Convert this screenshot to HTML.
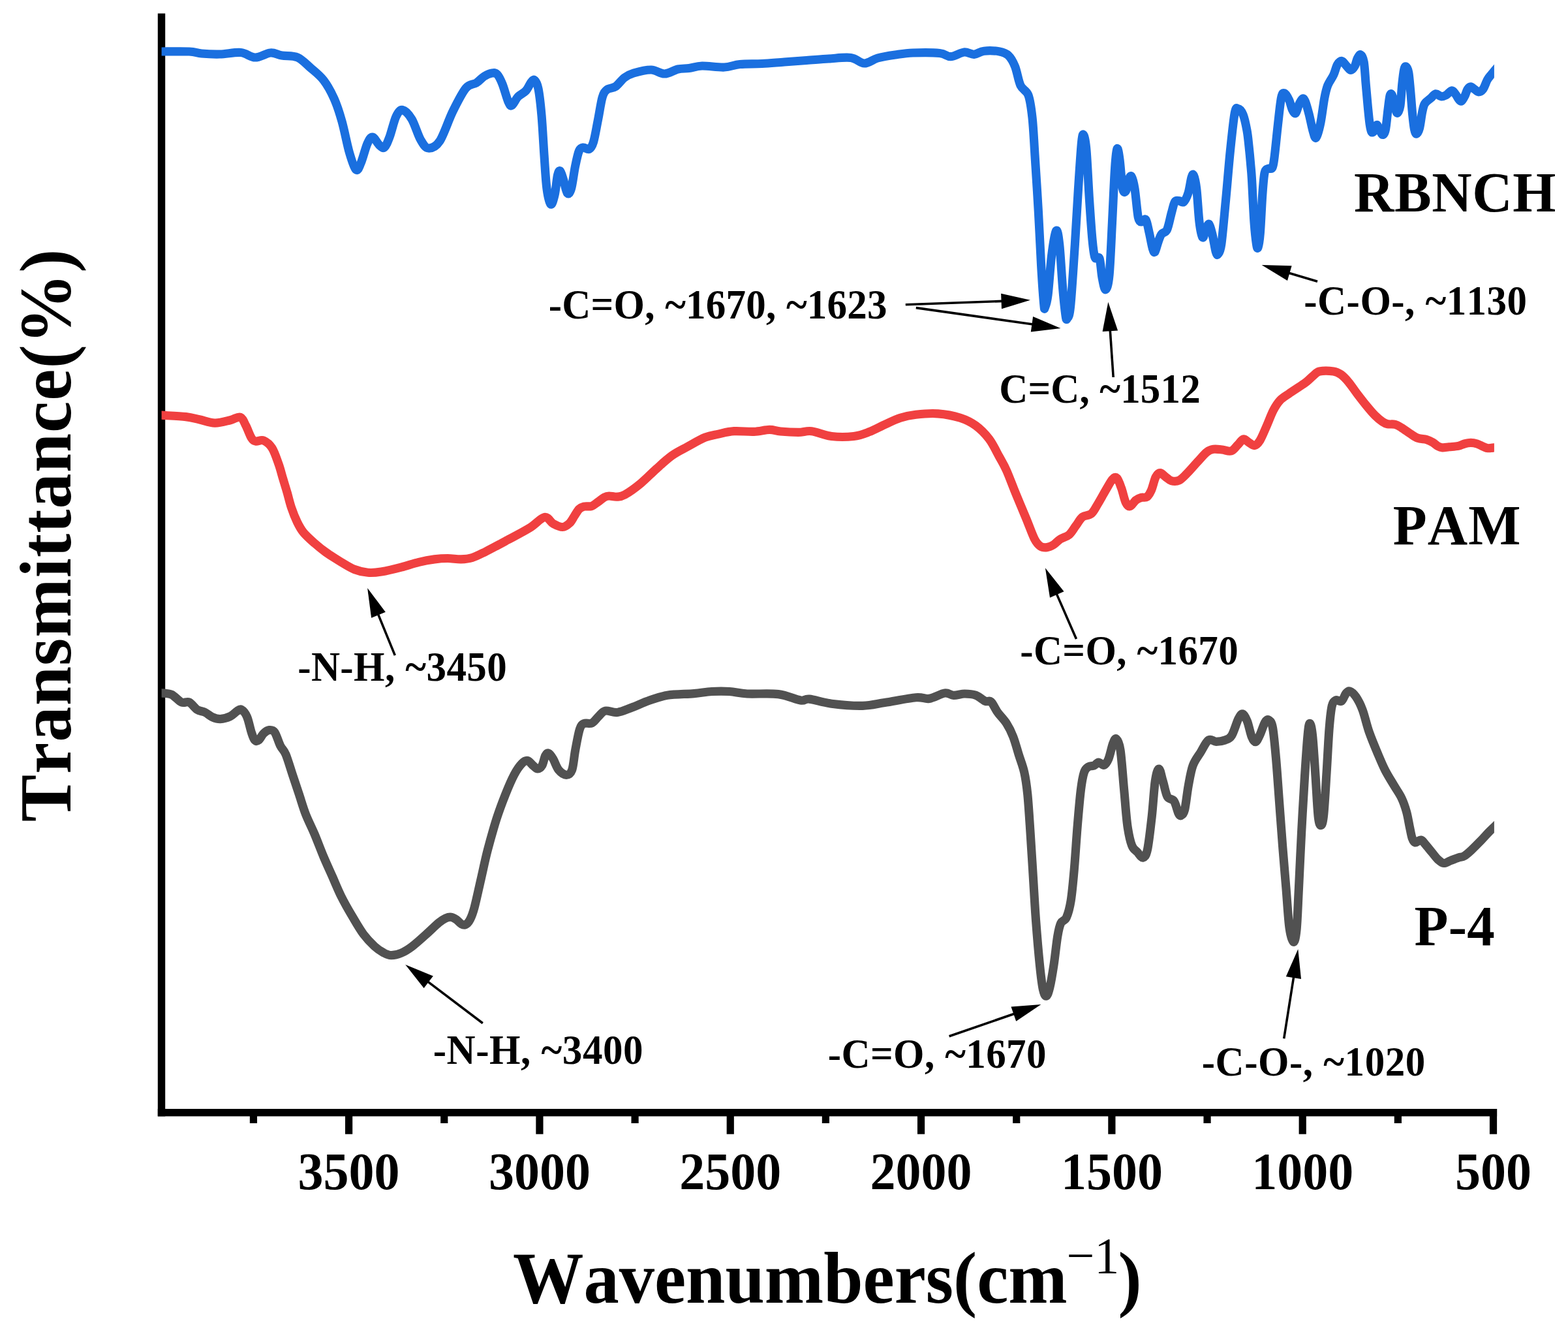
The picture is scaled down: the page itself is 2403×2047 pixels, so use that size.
<!DOCTYPE html>
<html lang="en"><head><meta charset="utf-8"><title>FTIR spectra</title>
<style>
html,body{margin:0;padding:0;background:#fff;}
body{width:2403px;height:2047px;overflow:hidden;}
svg{display:block;}
text{font-kerning:none;font-family:"Liberation Serif","DejaVu Serif",serif;font-weight:bold;fill:#000;}
.ann{font-size:61px;}
.lab{font-size:85px;}
.tick{font-size:78px;text-anchor:middle;}
.title{font-size:108.5px;}
.sup{font-size:76px;font-weight:normal;}
.curve{fill:none;stroke-width:13.2;stroke-linejoin:round;stroke-linecap:butt;}
</style></head><body>
<svg width="2403" height="2047" viewBox="0 0 2403 2047">
<rect x="0" y="0" width="2403" height="2047" fill="#fff"/>
<rect x="241.80" y="20.6" width="11.4" height="1689.80" fill="#000"/>
<rect x="241.80" y="1699.00" width="2052.30" height="11.4" fill="#000"/>
<rect x="529.00" y="1699.00" width="11.2" height="38.70" fill="#000"/>
<text class="tick" transform="translate(534.6,1822) scale(1,1.028)">3500</text>
<rect x="382.84" y="1699.00" width="11.2" height="22.00" fill="#000"/>
<rect x="821.32" y="1699.00" width="11.2" height="38.70" fill="#000"/>
<text class="tick" transform="translate(826.9,1822) scale(1,1.028)">3000</text>
<rect x="675.16" y="1699.00" width="11.2" height="22.00" fill="#000"/>
<rect x="1113.64" y="1699.00" width="11.2" height="38.70" fill="#000"/>
<text class="tick" transform="translate(1119.2,1822) scale(1,1.028)">2500</text>
<rect x="967.48" y="1699.00" width="11.2" height="22.00" fill="#000"/>
<rect x="1405.96" y="1699.00" width="11.2" height="38.70" fill="#000"/>
<text class="tick" transform="translate(1411.6,1822) scale(1,1.028)">2000</text>
<rect x="1259.80" y="1699.00" width="11.2" height="22.00" fill="#000"/>
<rect x="1698.28" y="1699.00" width="11.2" height="38.70" fill="#000"/>
<text class="tick" transform="translate(1703.9,1822) scale(1,1.028)">1500</text>
<rect x="1552.12" y="1699.00" width="11.2" height="22.00" fill="#000"/>
<rect x="1990.60" y="1699.00" width="11.2" height="38.70" fill="#000"/>
<text class="tick" transform="translate(1996.2,1822) scale(1,1.028)">1000</text>
<rect x="1844.44" y="1699.00" width="11.2" height="22.00" fill="#000"/>
<rect x="2282.92" y="1699.00" width="11.2" height="38.70" fill="#000"/>
<text class="tick" transform="translate(2288.5,1822) scale(1,1.028)">500</text>
<rect x="2136.76" y="1699.00" width="11.2" height="22.00" fill="#000"/>
<defs><clipPath id="plotclip"><rect x="247.6" y="0" width="2042.3" height="1700"/></clipPath></defs>
<g clip-path="url(#plotclip)">
<path class="curve" stroke="#515151" d="M240.0,1061.0C241.2,1061.1 243.7,1061.3 247.5,1061.8C251.3,1062.3 257.9,1061.8 263.0,1064.2C268.1,1066.6 273.7,1074.0 278.2,1076.0C282.7,1078.0 286.0,1074.1 290.0,1076.0C294.0,1077.9 298.0,1084.7 302.0,1087.3C306.0,1089.9 310.0,1089.5 314.0,1091.4C318.0,1093.3 321.9,1097.2 325.8,1098.9C329.8,1100.6 333.2,1101.8 337.7,1101.6C342.2,1101.4 348.8,1099.5 353.0,1097.5C357.2,1095.5 360.4,1091.4 363.2,1089.7C366.0,1088.0 367.4,1085.9 370.0,1087.3C372.6,1088.7 375.9,1092.4 378.5,1098.2C381.1,1104.0 383.3,1116.0 385.3,1122.0C387.3,1128.0 388.5,1132.0 390.4,1134.0C392.3,1136.0 394.2,1135.7 396.5,1134.0C398.8,1132.3 401.3,1126.3 404.0,1123.7C406.7,1121.1 409.7,1118.9 412.5,1118.6C415.3,1118.3 418.2,1118.0 421.0,1122.0C423.8,1126.0 426.7,1136.7 429.5,1142.4C432.3,1148.1 434.9,1148.6 438.0,1156.0C441.1,1163.4 444.8,1176.4 448.2,1186.6C451.6,1196.8 455.0,1207.0 458.4,1217.2C461.8,1227.4 464.6,1237.6 468.6,1247.8C472.6,1258.0 477.7,1267.6 482.2,1278.4C486.7,1289.2 491.3,1301.6 495.8,1312.4C500.3,1323.2 504.9,1332.8 509.4,1343.0C513.9,1353.2 517.9,1363.4 523.0,1373.6C528.1,1383.8 534.3,1394.6 540.0,1404.2C545.7,1413.8 551.3,1423.8 557.0,1431.4C562.7,1439.0 568.9,1445.3 574.0,1450.0C579.1,1454.7 583.4,1457.3 587.6,1459.6C591.9,1461.9 595.0,1463.6 599.5,1463.7C604.0,1463.8 609.4,1462.6 614.8,1460.3C620.2,1458.0 625.6,1454.7 631.8,1450.0C638.0,1445.3 645.4,1438.5 652.2,1432.4C659.0,1426.4 667.5,1417.9 672.6,1413.7C677.7,1409.5 679.7,1408.4 682.8,1407.0C685.9,1405.6 688.5,1404.8 691.3,1405.2C694.1,1405.6 697.2,1407.6 699.8,1409.3C702.3,1411.0 704.3,1414.2 706.6,1415.4C708.9,1416.7 711.1,1417.8 713.4,1416.8C715.7,1415.8 717.9,1413.7 720.2,1409.3C722.5,1404.9 724.2,1401.1 727.0,1390.6C729.8,1380.1 733.8,1361.1 737.2,1346.4C740.6,1331.7 743.4,1317.5 747.4,1302.2C751.4,1286.9 756.5,1268.8 761.0,1254.6C765.5,1240.4 770.1,1228.5 774.6,1217.2C779.1,1205.9 784.0,1194.5 788.2,1186.6C792.4,1178.7 796.6,1173.1 800.0,1169.6C803.4,1166.1 805.8,1164.9 808.6,1165.5C811.4,1166.1 814.4,1170.9 817.0,1173.0C819.6,1175.1 821.7,1178.0 824.0,1178.0C826.3,1178.0 828.7,1176.4 830.7,1173.0C832.7,1169.6 834.1,1160.8 835.8,1157.7C837.5,1154.6 839.0,1153.5 841.0,1154.3C843.0,1155.1 845.2,1158.5 847.7,1162.8C850.2,1167.0 852.8,1175.7 856.2,1179.8C859.6,1183.9 864.6,1187.3 868.0,1187.3C871.4,1187.3 874.3,1186.1 876.6,1179.8C878.9,1173.5 879.7,1159.7 881.7,1149.2C883.7,1138.7 886.2,1123.8 888.5,1117.0C890.8,1110.2 892.2,1110.0 895.3,1108.5C898.4,1107.0 903.5,1109.6 907.2,1107.8C910.9,1106.0 914.0,1100.7 917.4,1097.6C920.8,1094.5 922.8,1090.1 927.6,1089.1C932.4,1088.1 939.5,1092.3 946.3,1091.5C953.1,1090.7 960.2,1087.1 968.4,1084.0C976.6,1080.9 986.5,1076.2 995.6,1073.1C1004.7,1070.0 1011.5,1067.0 1022.8,1065.3C1034.1,1063.5 1052.3,1063.6 1063.6,1062.6C1074.9,1061.6 1081.7,1060.0 1090.8,1059.5C1099.9,1059.0 1108.9,1058.9 1118.0,1059.5C1127.1,1060.1 1132.7,1062.3 1145.2,1063.0C1157.7,1063.7 1179.2,1061.9 1192.8,1063.6C1206.4,1065.3 1218.9,1071.8 1226.8,1073.1C1234.7,1074.3 1232.5,1070.2 1240.4,1071.1C1248.3,1071.9 1260.8,1076.5 1274.4,1078.2C1288.0,1079.9 1308.4,1081.6 1322.0,1081.3C1335.6,1081.0 1342.4,1078.6 1356.0,1076.5C1369.6,1074.4 1392.3,1069.7 1403.6,1068.7C1414.9,1067.7 1416.6,1071.5 1424.0,1070.4C1431.4,1069.3 1441.6,1062.8 1447.8,1062.0C1454.0,1061.2 1456.3,1065.1 1461.4,1065.3C1466.5,1065.5 1472.7,1063.0 1478.4,1063.0C1484.1,1063.0 1490.1,1063.4 1495.4,1065.3C1500.7,1067.2 1506.3,1072.8 1510.2,1074.4C1514.1,1076.0 1515.6,1072.3 1518.7,1075.1C1521.8,1077.9 1524.9,1085.9 1528.9,1091.4C1532.9,1097.0 1538.5,1102.2 1542.5,1108.4C1546.5,1114.6 1549.6,1120.9 1552.7,1128.8C1555.8,1136.7 1558.4,1146.9 1561.2,1156.0C1564.0,1165.1 1567.4,1173.0 1569.7,1183.2C1572.0,1193.4 1573.2,1201.9 1574.8,1217.2C1576.3,1232.5 1577.6,1254.0 1579.0,1275.0C1580.4,1296.0 1581.9,1320.3 1583.3,1343.0C1584.7,1365.7 1585.9,1388.3 1587.6,1411.0C1589.3,1433.7 1591.7,1461.4 1593.5,1479.0C1595.3,1496.6 1596.8,1508.6 1598.5,1516.4C1600.2,1524.2 1602.0,1526.6 1603.7,1526.0C1605.4,1525.4 1606.9,1520.8 1608.8,1513.0C1610.7,1505.2 1612.9,1492.0 1614.9,1479.0C1616.9,1466.0 1618.9,1445.6 1620.7,1434.8C1622.5,1424.0 1623.5,1419.2 1625.8,1414.4C1628.1,1409.6 1631.8,1411.6 1634.3,1405.9C1636.8,1400.2 1639.1,1392.6 1641.1,1380.4C1643.1,1368.2 1644.5,1352.1 1646.2,1332.8C1647.9,1313.5 1649.6,1285.2 1651.3,1264.8C1653.0,1244.4 1654.7,1224.0 1656.4,1210.4C1658.1,1196.8 1659.5,1189.2 1661.5,1183.2C1663.5,1177.2 1665.8,1176.4 1668.3,1174.7C1670.8,1173.0 1674.2,1174.1 1676.8,1173.0C1679.3,1171.9 1681.0,1168.1 1683.6,1168.0C1686.1,1167.9 1689.5,1173.2 1692.1,1172.3C1694.6,1171.4 1696.6,1168.3 1698.9,1162.8C1701.2,1157.2 1703.7,1144.1 1705.7,1139.0C1707.7,1133.9 1708.9,1130.5 1710.8,1132.2C1712.7,1133.9 1715.0,1136.2 1717.0,1149.2C1719.0,1162.2 1720.9,1191.1 1722.7,1210.4C1724.5,1229.7 1725.8,1250.6 1727.8,1264.8C1729.8,1279.0 1732.0,1288.6 1734.6,1295.4C1737.1,1302.2 1740.3,1302.5 1743.1,1305.6C1745.9,1308.7 1749.0,1314.6 1751.6,1314.0C1754.1,1313.4 1756.1,1312.7 1758.4,1302.2C1760.7,1291.7 1763.2,1268.8 1765.2,1251.2C1767.2,1233.6 1768.5,1209.0 1770.3,1196.8C1772.1,1184.6 1774.1,1178.0 1776.1,1178.0C1778.1,1178.0 1780.0,1189.7 1782.2,1196.8C1784.4,1203.9 1786.2,1215.5 1789.0,1220.6C1791.8,1225.7 1796.4,1223.2 1799.2,1227.4C1802.0,1231.6 1804.2,1242.3 1806.0,1246.0C1807.8,1249.7 1808.4,1250.3 1810.0,1249.5C1811.6,1248.7 1813.6,1248.7 1815.5,1241.0C1817.4,1233.3 1819.2,1214.9 1821.3,1203.6C1823.4,1192.3 1825.0,1181.5 1828.1,1173.0C1831.2,1164.5 1836.0,1159.1 1840.0,1152.6C1844.0,1146.1 1848.0,1136.7 1852.0,1134.0C1856.0,1131.3 1859.6,1136.3 1863.8,1136.3C1868.0,1136.3 1873.4,1135.5 1877.4,1134.0C1881.4,1132.5 1884.2,1132.4 1887.6,1127.0C1891.0,1121.6 1895.0,1107.1 1897.8,1101.6C1900.6,1096.1 1902.3,1093.4 1904.6,1094.0C1906.9,1094.6 1909.1,1099.2 1911.4,1105.0C1913.7,1110.8 1916.1,1123.5 1918.2,1128.8C1920.3,1134.1 1922.2,1137.2 1924.3,1136.6C1926.4,1136.0 1928.7,1130.4 1931.1,1125.4C1933.5,1120.4 1936.3,1110.4 1938.6,1106.7C1940.9,1103.0 1942.7,1101.9 1944.7,1103.3C1946.7,1104.7 1948.7,1105.3 1950.5,1115.2C1952.3,1125.1 1953.9,1143.5 1955.6,1162.8C1957.3,1182.1 1959.0,1208.1 1960.7,1230.8C1962.4,1253.5 1964.1,1277.3 1965.8,1298.8C1967.5,1320.3 1969.2,1339.6 1970.9,1360.0C1972.6,1380.4 1974.1,1407.3 1976.0,1421.2C1977.9,1435.1 1980.3,1442.7 1982.1,1443.3C1983.9,1443.9 1985.6,1438.5 1987.0,1424.6C1988.4,1410.7 1989.2,1384.9 1990.5,1360.0C1991.8,1335.1 1993.1,1303.3 1994.6,1275.0C1996.1,1246.7 1997.9,1214.9 1999.5,1190.0C2001.1,1165.1 2002.9,1139.0 2004.2,1125.4C2005.5,1111.8 2006.3,1107.8 2007.6,1108.4C2008.8,1109.0 2010.3,1115.2 2011.7,1128.8C2013.1,1142.4 2014.7,1169.6 2016.1,1190.0C2017.5,1210.4 2018.8,1238.8 2020.2,1251.2C2021.6,1263.6 2023.2,1265.1 2024.6,1264.5C2026.0,1263.9 2027.3,1261.3 2028.7,1247.8C2030.1,1234.2 2031.7,1205.3 2033.1,1183.2C2034.5,1161.1 2035.8,1132.2 2037.2,1115.2C2038.6,1098.2 2039.6,1088.3 2041.3,1081.2C2043.0,1074.1 2045.0,1073.8 2047.4,1072.7C2049.8,1071.6 2053.4,1076.1 2055.9,1074.4C2058.4,1072.7 2060.6,1065.1 2062.7,1062.5C2064.8,1059.9 2065.9,1058.2 2068.5,1059.0C2071.1,1059.8 2074.7,1062.8 2078.0,1067.6C2081.3,1072.4 2084.8,1078.9 2088.2,1088.0C2091.6,1097.1 2094.4,1110.7 2098.4,1122.0C2102.4,1133.3 2107.9,1146.3 2112.0,1156.0C2116.1,1165.7 2118.7,1172.1 2122.7,1180.0C2126.7,1187.9 2132.0,1196.1 2136.2,1203.2C2140.4,1210.3 2144.6,1215.8 2147.8,1222.5C2151.0,1229.2 2153.4,1236.3 2155.5,1243.7C2157.6,1251.1 2158.9,1260.2 2160.3,1266.9C2161.8,1273.7 2162.8,1280.2 2164.2,1284.2C2165.6,1288.2 2166.8,1290.5 2169.0,1291.0C2171.2,1291.5 2175.1,1286.6 2177.7,1287.1C2180.3,1287.6 2181.8,1290.8 2184.5,1293.9C2187.2,1297.0 2190.9,1301.7 2194.1,1305.5C2197.3,1309.3 2200.7,1314.2 2203.8,1317.0C2206.9,1319.8 2209.3,1322.2 2212.5,1322.5C2215.7,1322.8 2219.3,1320.0 2223.0,1318.6C2226.7,1317.2 2231.1,1315.4 2234.7,1314.2C2238.2,1313.0 2240.8,1313.4 2244.3,1311.3C2247.8,1309.2 2251.7,1305.5 2255.9,1301.6C2260.1,1297.7 2265.2,1292.4 2269.4,1288.1C2273.6,1283.8 2277.6,1279.1 2281.0,1275.6C2284.4,1272.1 2287.5,1269.3 2290.0,1266.9C2292.5,1264.5 2295.0,1262.0 2296.0,1261.0"/>
<path class="curve" stroke="#f04040" d="M240.0,635.8C241.2,635.9 240.0,635.7 247.5,636.2C255.0,636.7 275.4,637.5 285.0,638.6C294.6,639.7 298.0,641.1 305.4,642.7C312.8,644.3 321.3,647.9 329.2,648.1C337.1,648.3 346.5,645.2 353.0,643.7C359.5,642.2 364.3,637.9 368.3,639.3C372.3,640.7 374.0,646.9 376.8,652.2C379.6,657.5 382.8,667.0 385.3,671.0C387.9,675.0 389.0,675.3 392.1,676.0C395.2,676.7 399.9,673.2 404.0,675.0C408.1,676.8 413.2,680.5 417.0,686.5C420.8,692.5 424.2,703.2 427.0,711.0C429.8,718.8 431.4,725.8 433.6,733.2C435.8,740.6 438.2,748.0 440.3,755.4C442.4,762.8 444.0,770.2 446.5,777.6C449.0,785.0 452.4,793.6 455.5,800.0C458.6,806.4 460.8,810.6 465.2,816.0C469.6,821.4 476.5,827.4 482.2,832.4C487.9,837.4 492.4,841.2 499.2,846.0C506.0,850.8 515.6,856.9 523.0,861.3C530.4,865.7 536.6,869.8 543.4,872.5C550.2,875.2 557.0,876.7 563.8,877.3C570.6,877.9 575.7,877.4 584.2,876.0C592.7,874.6 605.2,871.6 614.8,869.1C624.4,866.6 633.5,863.3 642.0,861.3C650.5,859.3 658.4,857.9 665.8,856.9C673.2,855.9 679.4,855.5 686.2,855.5C693.0,855.5 700.4,857.1 706.6,856.9C712.8,856.7 717.4,856.4 723.6,854.5C729.8,852.6 734.9,849.8 744.0,845.3C753.1,840.8 766.7,833.4 778.0,827.3C789.3,821.2 802.6,814.4 812.0,808.6C821.4,802.8 828.5,793.5 834.5,792.5C840.5,791.5 843.4,800.0 848.0,802.5C852.6,805.0 858.0,807.7 862.2,807.5C866.4,807.3 870.0,804.3 873.0,801.5C876.0,798.7 877.9,794.2 880.3,790.6C882.7,787.0 885.1,782.4 887.5,780.0C889.9,777.6 891.6,777.0 894.8,776.2C898.0,775.4 903.2,776.6 906.8,775.4C910.4,774.2 913.3,771.2 916.5,769.0C919.7,766.8 923.3,763.5 926.1,762.0C928.9,760.5 930.2,760.1 933.4,760.0C936.6,759.9 941.4,761.5 945.4,761.2C949.4,760.9 951.4,761.4 957.5,758.0C963.6,754.6 974.0,747.2 982.0,740.6C990.0,734.0 997.9,725.6 1005.8,718.5C1013.7,711.4 1021.7,703.8 1029.6,698.1C1037.5,692.4 1044.9,689.1 1053.4,684.5C1061.9,679.9 1072.7,673.4 1080.6,670.2C1088.5,667.0 1093.6,666.7 1101.0,665.1C1108.4,663.5 1115.7,661.3 1124.8,660.7C1133.9,660.1 1146.3,661.8 1155.4,661.4C1164.5,661.0 1172.4,658.4 1179.2,658.3C1186.0,658.2 1188.8,660.3 1196.2,661.0C1203.6,661.7 1215.5,662.4 1223.4,662.4C1231.3,662.4 1235.3,659.7 1243.8,660.7C1252.3,661.7 1263.6,667.2 1274.4,668.5C1285.2,669.8 1298.8,669.6 1308.4,668.5C1318.0,667.4 1324.3,664.7 1332.2,661.7C1340.1,658.7 1348.1,654.1 1356.0,650.5C1363.9,646.9 1371.9,642.8 1379.8,640.3C1387.7,637.8 1394.0,636.3 1403.6,635.2C1413.2,634.1 1426.3,632.9 1437.6,633.8C1448.9,634.6 1462.0,637.2 1471.6,640.3C1481.2,643.4 1488.0,646.8 1495.4,652.2C1502.8,657.6 1509.8,664.7 1515.8,672.6C1521.8,680.5 1527.0,691.8 1531.4,699.8C1535.8,707.8 1538.3,711.5 1542.4,720.6C1546.5,729.7 1550.9,742.1 1556.0,754.6C1561.1,767.1 1568.1,783.5 1573.0,795.4C1577.9,807.3 1581.9,819.1 1585.5,826.0C1589.1,832.9 1591.2,834.8 1594.4,836.9C1597.6,839.0 1601.2,839.0 1604.6,838.6C1608.0,838.2 1611.4,836.6 1614.8,834.5C1618.2,832.4 1621.0,828.5 1625.0,826.0C1629.0,823.5 1634.6,822.6 1638.6,819.2C1642.6,815.8 1645.4,810.1 1648.8,805.6C1652.2,801.1 1655.0,795.1 1659.0,792.0C1663.0,788.9 1668.6,790.4 1672.6,787.0C1676.6,783.6 1678.8,778.1 1682.8,771.6C1686.8,765.1 1692.7,754.0 1696.4,747.8C1700.1,741.6 1702.5,736.8 1705.0,734.2C1707.5,731.7 1709.5,730.2 1711.7,732.5C1714.0,734.8 1716.2,741.5 1718.5,747.8C1720.8,754.0 1723.0,765.4 1725.3,770.0C1727.5,774.6 1729.5,776.3 1732.0,775.7C1734.5,775.1 1737.8,768.7 1740.6,766.5C1743.4,764.3 1746.2,763.2 1749.0,762.4C1751.8,761.5 1755.0,763.3 1757.6,761.4C1760.2,759.5 1762.1,756.3 1764.4,751.2C1766.7,746.1 1768.9,735.2 1771.2,730.8C1773.5,726.4 1775.5,724.7 1778.0,724.7C1780.5,724.7 1783.7,728.8 1786.5,730.8C1789.3,732.8 1791.6,735.7 1795.0,736.6C1798.4,737.5 1803.0,737.8 1807.0,736.0C1811.0,734.2 1814.0,730.5 1818.8,725.7C1823.6,720.9 1830.7,712.5 1835.8,707.0C1840.9,701.5 1845.4,695.8 1849.4,692.7C1853.4,689.6 1855.6,688.9 1859.6,688.3C1863.6,687.7 1868.7,688.5 1873.2,689.0C1877.7,689.5 1882.8,692.2 1886.8,691.0C1890.8,689.8 1893.9,684.5 1897.0,681.5C1900.1,678.5 1902.7,673.6 1905.5,673.0C1908.3,672.4 1911.2,676.4 1914.0,678.0C1916.8,679.6 1919.7,683.0 1922.5,682.5C1925.3,682.0 1927.9,679.7 1931.0,674.7C1934.1,669.7 1937.8,660.2 1941.2,652.6C1944.6,645.0 1948.0,635.3 1951.4,628.8C1954.8,622.3 1957.6,617.8 1961.6,613.5C1965.6,609.2 1969.5,607.3 1975.2,603.3C1980.9,599.3 1991.0,592.9 1995.6,589.7C2000.2,586.6 2000.2,586.7 2003.0,584.4C2005.8,582.1 2009.5,578.3 2012.7,575.7C2015.9,573.1 2017.2,570.1 2022.3,569.0C2027.4,567.9 2038.0,568.2 2043.5,569.0C2048.9,569.8 2051.1,571.1 2055.0,573.8C2058.9,576.5 2062.5,580.4 2066.7,585.4C2070.9,590.4 2075.7,597.8 2080.2,603.7C2084.7,609.6 2089.2,615.5 2093.7,621.0C2098.2,626.5 2103.0,632.3 2107.2,636.5C2111.4,640.7 2115.6,644.0 2118.8,646.2C2122.0,648.4 2123.3,649.0 2126.5,649.7C2129.7,650.4 2134.4,649.5 2138.0,650.4C2141.6,651.3 2143.9,652.9 2147.8,655.3C2151.7,657.6 2157.1,661.8 2161.3,664.5C2165.5,667.2 2168.7,669.8 2172.9,671.3C2177.1,672.8 2182.6,672.5 2186.4,673.6C2190.2,674.7 2193.1,676.3 2196.0,678.0C2198.9,679.7 2201.4,682.5 2203.8,683.8C2206.2,685.1 2207.6,685.6 2210.5,685.8C2213.4,686.0 2217.0,685.2 2221.0,684.8C2225.0,684.4 2230.8,684.2 2234.7,683.4C2238.6,682.6 2241.1,680.8 2244.3,680.0C2247.5,679.2 2250.8,678.4 2254.0,678.4C2257.2,678.4 2260.4,679.0 2263.6,680.0C2266.8,681.0 2270.6,683.3 2273.3,684.4C2276.0,685.5 2277.2,686.5 2280.0,686.7C2282.8,686.9 2287.3,686.1 2290.0,685.8C2292.7,685.5 2295.0,685.1 2296.0,685.0"/>
<path class="curve" stroke="#1a6fdf" d="M240.0,79.0C241.2,79.0 239.2,79.0 247.5,79.0C255.8,79.0 279.8,78.5 290.0,79.0C300.2,79.5 301.2,81.3 309.0,82.0C316.8,82.7 327.0,83.2 337.0,83.0C347.0,82.8 360.0,79.7 369.0,80.5C378.0,81.3 383.4,87.9 391.0,88.0C398.6,88.1 407.7,81.5 414.5,81.0C421.3,80.5 425.1,83.8 432.0,85.0C438.9,86.2 448.7,84.8 456.0,88.0C463.3,91.2 469.3,98.2 476.0,104.0C482.7,109.8 490.0,115.2 496.0,123.0C502.0,130.8 507.3,140.5 512.0,151.0C516.7,161.5 520.1,172.2 524.0,186.0C527.9,199.8 531.9,221.7 535.5,234.0C539.1,246.3 542.6,257.3 545.5,260.0C548.4,262.7 550.1,256.7 553.0,250.0C555.9,243.3 560.0,226.7 563.0,220.0C566.0,213.3 568.0,209.7 571.0,210.0C574.0,210.3 578.0,219.3 581.0,222.0C584.0,224.7 586.3,228.0 589.0,226.0C591.7,224.0 594.0,217.9 597.0,210.0C600.0,202.1 603.7,185.4 607.0,178.5C610.3,171.6 613.0,167.8 617.0,168.5C621.0,169.2 626.4,174.9 631.0,182.5C635.6,190.1 640.2,206.6 644.5,214.0C648.8,221.4 651.6,226.7 656.5,227.0C661.4,227.3 667.8,225.4 674.0,216.0C680.2,206.6 687.3,184.0 694.0,170.5C700.7,157.0 708.0,142.2 714.0,135.0C720.0,127.8 725.3,130.0 730.0,127.0C734.7,124.0 738.0,119.5 742.0,117.0C746.0,114.5 750.7,112.5 754.0,112.0C757.3,111.5 759.3,111.2 762.0,114.0C764.7,116.8 767.2,122.0 770.0,129.0C772.8,136.0 776.6,150.6 779.0,156.0C781.4,161.4 782.0,162.8 784.5,161.5C787.0,160.2 790.4,151.8 794.0,148.0C797.6,144.2 802.7,142.7 806.0,139.0C809.3,135.3 811.8,128.7 814.0,126.0C816.2,123.3 817.7,121.3 819.5,123.0C821.3,124.7 823.2,127.0 825.0,136.0C826.8,145.0 828.5,160.0 830.0,177.0C831.5,194.0 832.7,219.3 834.0,238.0C835.3,256.7 836.3,276.5 838.0,289.0C839.7,301.5 842.0,311.3 844.0,313.0C846.0,314.7 848.2,306.4 850.0,299.0C851.8,291.6 853.1,274.7 854.5,268.5C855.9,262.3 857.0,260.8 858.5,262.0C860.0,263.2 861.7,269.8 863.5,275.5C865.3,281.2 867.5,293.8 869.5,296.0C871.5,298.2 873.5,295.8 875.5,289.0C877.5,282.2 879.5,264.7 881.5,255.0C883.5,245.3 885.4,235.8 887.5,231.0C889.6,226.2 891.4,226.4 894.0,226.0C896.6,225.6 900.4,229.9 903.0,228.5C905.6,227.1 907.2,225.0 909.5,217.5C911.8,210.0 914.2,194.8 916.5,183.5C918.8,172.2 920.8,157.2 923.0,149.5C925.2,141.8 926.6,140.3 930.0,137.5C933.4,134.7 939.0,135.6 943.5,132.5C948.0,129.4 952.4,122.4 957.0,119.0C961.6,115.6 964.2,114.0 971.0,112.0C977.8,110.0 990.1,106.8 998.0,107.0C1005.9,107.2 1011.7,113.2 1018.5,113.0C1025.3,112.8 1032.8,107.4 1039.0,106.0C1045.2,104.6 1049.8,105.3 1056.0,104.5C1062.2,103.7 1067.0,101.2 1076.0,101.0C1085.0,100.8 1100.3,103.4 1110.0,103.0C1119.7,102.6 1124.3,99.4 1134.0,98.5C1143.7,97.6 1156.7,98.1 1168.0,97.5C1179.3,96.9 1190.7,95.8 1202.0,95.0C1213.3,94.2 1224.7,93.3 1236.0,92.5C1247.3,91.7 1258.7,90.7 1270.0,90.0C1281.3,89.3 1294.9,87.3 1304.0,88.5C1313.1,89.7 1317.7,96.9 1324.5,97.0C1331.3,97.1 1337.1,91.2 1345.0,89.0C1352.9,86.8 1363.0,85.3 1372.0,84.0C1381.0,82.7 1387.7,81.4 1399.0,81.0C1410.3,80.6 1430.3,80.5 1440.0,81.5C1449.7,82.5 1450.8,87.0 1457.0,86.7C1463.2,86.5 1471.5,80.6 1477.4,80.0C1483.4,79.4 1487.6,83.6 1492.7,83.3C1497.8,83.0 1501.5,78.9 1508.0,78.2C1514.5,77.5 1525.6,77.9 1531.8,79.0C1538.0,80.1 1541.4,81.2 1545.4,85.0C1549.4,88.8 1552.5,94.3 1555.6,102.0C1558.7,109.7 1560.6,123.7 1564.0,131.0C1567.4,138.3 1573.0,137.8 1576.0,146.0C1579.0,154.2 1580.3,164.7 1582.0,180.0C1583.7,195.3 1584.5,214.2 1586.0,238.0C1587.5,261.8 1589.7,294.7 1591.3,323.0C1592.9,351.3 1594.3,384.2 1595.7,408.0C1597.1,431.8 1598.8,455.5 1599.8,466.0C1600.8,476.5 1600.5,473.3 1601.5,471.0C1602.5,468.7 1604.3,465.3 1606.0,452.0C1607.7,438.7 1609.6,407.4 1611.7,391.0C1613.8,374.6 1616.5,356.4 1618.5,353.6C1620.5,350.8 1621.9,359.3 1623.6,374.0C1625.3,388.7 1627.1,423.8 1628.7,442.0C1630.3,460.2 1631.9,475.3 1633.0,483.0C1634.1,490.7 1634.2,490.3 1635.5,488.0C1636.8,485.7 1638.6,488.0 1640.6,469.0C1642.6,450.0 1645.4,404.0 1647.4,374.0C1649.4,344.0 1650.8,315.1 1652.5,289.0C1654.2,262.9 1656.2,231.2 1657.6,217.6C1659.0,204.0 1659.8,205.2 1661.0,207.4C1662.2,209.6 1663.6,214.6 1665.0,231.0C1666.4,247.4 1668.0,283.3 1669.5,306.0C1671.0,328.7 1672.6,352.3 1674.0,367.0C1675.4,381.7 1676.2,389.6 1678.0,394.4C1679.8,399.2 1683.2,390.9 1685.0,396.0C1686.8,401.1 1687.5,417.1 1689.0,425.0C1690.5,432.9 1692.5,444.3 1694.3,443.7C1696.1,443.1 1698.3,438.9 1700.0,421.6C1701.7,404.3 1703.1,367.2 1704.5,340.0C1705.9,312.8 1707.3,277.1 1708.6,258.4C1709.8,239.7 1710.8,230.1 1712.0,227.8C1713.2,225.5 1714.6,234.6 1716.0,244.8C1717.4,255.0 1718.9,281.1 1720.5,289.0C1722.1,296.9 1724.1,294.7 1725.6,292.4C1727.1,290.1 1728.3,279.1 1729.7,275.4C1731.1,271.7 1732.5,268.0 1734.0,270.3C1735.5,272.6 1737.3,278.6 1739.0,289.0C1740.7,299.4 1742.6,324.5 1744.3,333.0C1746.0,341.5 1747.5,339.4 1749.4,340.0C1751.4,340.6 1754.0,333.8 1756.0,336.6C1758.0,339.4 1759.6,349.6 1761.3,357.0C1763.0,364.4 1765.0,376.0 1766.4,380.8C1767.9,385.6 1768.6,387.7 1770.0,386.0C1771.4,384.3 1773.3,375.2 1775.0,370.6C1776.7,366.1 1777.8,361.8 1780.0,358.7C1782.2,355.6 1786.0,357.4 1788.5,352.0C1791.0,346.6 1793.3,333.5 1795.3,326.4C1797.3,319.3 1798.5,312.5 1800.4,309.4C1802.4,306.3 1804.7,307.7 1807.0,307.7C1809.3,307.7 1811.7,311.4 1814.0,309.4C1816.3,307.4 1819.0,302.0 1821.0,295.8C1823.0,289.6 1824.6,276.5 1826.0,272.0C1827.4,267.5 1828.0,265.8 1829.3,268.6C1830.6,271.4 1832.2,277.1 1833.7,289.0C1835.2,300.9 1836.5,327.5 1838.0,340.0C1839.5,352.5 1841.3,361.8 1843.0,363.8C1844.7,365.8 1846.3,355.4 1848.0,352.0C1849.7,348.6 1851.3,342.0 1853.0,343.4C1854.7,344.8 1856.5,353.3 1858.2,360.4C1859.9,367.5 1861.9,381.2 1863.3,386.0C1864.7,390.8 1865.3,391.3 1866.7,389.3C1868.1,387.3 1869.8,387.9 1871.8,374.0C1873.8,360.1 1876.3,329.8 1878.6,306.0C1880.9,282.2 1883.1,253.1 1885.4,231.0C1887.7,208.9 1890.2,184.1 1892.2,173.4C1894.2,162.7 1895.2,166.2 1897.3,166.6C1899.4,166.9 1902.7,169.9 1905.0,175.5C1907.3,181.1 1909.5,191.9 1911.0,200.0C1912.5,208.1 1913.1,215.7 1914.0,224.0C1914.9,232.3 1915.8,241.5 1916.5,250.0C1917.2,258.5 1917.6,260.0 1918.5,275.0C1919.4,290.0 1920.8,323.5 1922.0,340.0C1923.2,356.5 1924.5,367.5 1925.5,374.0C1926.5,380.5 1927.0,381.8 1928.0,379.0C1929.0,376.2 1930.2,370.3 1931.3,357.0C1932.4,343.7 1933.6,314.3 1934.7,299.0C1935.8,283.7 1936.6,271.8 1938.0,265.0C1939.4,258.2 1941.2,259.8 1943.2,258.4C1945.2,257.0 1948.3,260.1 1950.0,256.7C1951.7,253.3 1952.0,249.1 1953.4,238.0C1954.8,226.9 1956.8,205.1 1958.5,190.4C1960.2,175.7 1961.9,157.5 1963.6,149.6C1965.3,141.7 1966.7,142.2 1968.7,142.8C1970.7,143.4 1973.5,148.8 1975.5,153.0C1977.5,157.2 1978.9,164.9 1980.6,168.3C1982.3,171.7 1984.0,174.8 1985.7,173.4C1987.4,172.0 1989.1,163.5 1990.8,159.8C1992.5,156.1 1994.5,152.2 1996.0,151.3C1997.5,150.5 1998.3,150.8 2000.0,154.7C2001.7,158.6 2004.0,166.9 2006.0,174.5C2008.0,182.1 2010.2,194.2 2012.0,200.3C2013.8,206.4 2014.9,213.0 2016.9,211.0C2018.9,209.0 2021.7,198.5 2023.8,188.4C2025.9,178.3 2027.9,160.3 2029.7,150.7C2031.5,141.1 2032.4,136.9 2034.7,131.0C2037.0,125.0 2041.1,120.3 2043.6,115.0C2046.1,109.7 2047.4,102.6 2049.6,99.0C2051.8,95.4 2054.2,93.2 2056.5,93.5C2058.8,93.8 2061.2,98.7 2063.5,101.0C2065.8,103.3 2068.2,107.5 2070.4,107.5C2072.6,107.5 2074.8,104.0 2076.4,101.0C2078.1,98.0 2078.8,92.1 2080.3,89.3C2081.8,86.5 2083.7,83.0 2085.3,84.0C2087.0,85.0 2088.9,87.7 2090.2,95.2C2091.5,102.7 2092.2,117.8 2093.2,129.0C2094.2,140.2 2095.2,152.4 2096.2,162.6C2097.2,172.8 2098.2,183.8 2099.2,190.4C2100.2,197.0 2100.9,200.7 2102.0,202.3C2103.1,204.0 2104.7,202.1 2106.0,200.3C2107.3,198.5 2108.7,191.7 2110.0,191.4C2111.3,191.1 2112.5,195.8 2114.0,198.3C2115.5,200.8 2117.4,206.5 2119.0,206.5C2120.6,206.5 2122.1,204.6 2123.4,198.3C2124.7,192.0 2125.9,177.2 2127.0,168.6C2128.1,160.0 2129.0,150.8 2130.0,146.8C2131.0,142.8 2131.8,143.2 2132.9,144.8C2134.1,146.5 2135.6,152.0 2136.9,156.7C2138.2,161.4 2139.3,172.0 2140.8,173.0C2142.3,174.0 2144.5,169.9 2145.8,162.6C2147.1,155.3 2147.8,138.3 2148.8,129.0C2149.8,119.7 2150.7,111.5 2151.7,107.0C2152.7,102.5 2153.5,101.3 2154.7,102.0C2155.9,102.7 2157.5,104.9 2158.7,111.0C2159.8,117.1 2160.6,128.2 2161.6,138.8C2162.6,149.4 2163.6,164.6 2164.6,174.5C2165.6,184.4 2166.5,193.2 2167.6,198.3C2168.7,203.4 2169.7,205.3 2171.0,205.0C2172.3,204.7 2174.1,201.7 2175.5,196.3C2176.9,190.9 2178.2,178.8 2179.5,172.5C2180.8,166.2 2181.3,162.3 2183.5,158.7C2185.7,155.1 2189.6,153.2 2192.4,150.7C2195.2,148.2 2197.7,144.3 2200.3,143.8C2203.0,143.3 2205.7,147.5 2208.3,147.8C2211.0,148.1 2213.4,147.3 2216.2,145.8C2219.0,144.3 2222.5,139.0 2225.0,138.8C2227.5,138.6 2229.2,142.5 2231.0,144.8C2232.8,147.1 2234.5,151.0 2236.0,152.7C2237.5,154.3 2238.5,155.7 2240.0,154.7C2241.5,153.7 2243.5,149.8 2245.0,146.8C2246.5,143.8 2247.5,139.1 2249.0,136.8C2250.5,134.5 2252.1,132.9 2253.9,132.9C2255.7,132.9 2257.8,135.5 2259.8,136.8C2261.8,138.1 2263.7,140.8 2265.8,140.8C2268.0,140.8 2270.4,139.9 2272.7,136.8C2275.0,133.7 2277.4,125.8 2279.6,122.0C2281.8,118.2 2283.9,116.2 2285.6,114.0C2287.3,111.8 2288.3,110.8 2290.0,108.7C2291.7,106.6 2295.0,102.7 2296.0,101.5"/>
</g>
<text class="lab" transform="translate(2074.94,323.9) scale(1,1.028)" style="letter-spacing:0.604px">RBNCH</text>
<text class="lab" transform="translate(2134.74,834.3) scale(1,1.028)" style="letter-spacing:1.066px">PAM</text>
<text class="lab" transform="translate(2167.54,1448.3) scale(1,1.028)" style="letter-spacing:0.295px">P-4</text>
<text class="ann" transform="translate(840.74,487.5) scale(1,1.028)" style="letter-spacing:0.23px">-C=O, ~1670, ~1623</text>
<text class="ann" transform="translate(1531.2,616.5) scale(1,1.028)" style="letter-spacing:0.159px">C=C, ~1512</text>
<text class="ann" transform="translate(1998.34,481.5) scale(1,1.028)" style="letter-spacing:0.461px">-C-O-, ~1130</text>
<text class="ann" transform="translate(456.14,1043.2) scale(1,1.028)" style="letter-spacing:0.438px">-N-H, ~3450</text>
<text class="ann" transform="translate(1563.24,1018) scale(1,1.028)" style="letter-spacing:0.367px">-C=O, ~1670</text>
<text class="ann" transform="translate(663.74,1629.8) scale(1,1.028)" style="letter-spacing:0.548px">-N-H, ~3400</text>
<text class="ann" transform="translate(1268.84,1635.5) scale(1,1.028)" style="letter-spacing:0.387px">-C=O, ~1670</text>
<text class="ann" transform="translate(1841.74,1647.6) scale(1,1.028)" style="letter-spacing:0.533px">-C-O-, ~1020</text>
<line x1="1387.8" y1="466.8" x2="1536.5" y2="461.4" stroke="#000" stroke-width="3.6"/><polygon points="1579.0,459.8 1535.0,473.2 1534.1,449.7" fill="#000"/>
<line x1="1403.8" y1="471.6" x2="1583.4" y2="497.0" stroke="#000" stroke-width="3.6"/><polygon points="1625.5,503.0 1579.8,508.4 1583.1,485.1" fill="#000"/>
<line x1="1706.2" y1="578.0" x2="1701.2" y2="505.2" stroke="#000" stroke-width="3.6"/><polygon points="1698.3,462.8 1713.1,506.4 1689.6,508.0" fill="#000"/>
<line x1="2019.0" y1="431.2" x2="1974.4" y2="418.0" stroke="#000" stroke-width="3.6"/><polygon points="1933.6,406.0 1979.6,407.3 1973.0,429.9" fill="#000"/>
<line x1="605.3" y1="1004.1" x2="579.2" y2="940.4" stroke="#000" stroke-width="3.6"/><polygon points="563.1,901.1 590.8,937.8 569.1,946.7" fill="#000"/>
<line x1="1649.5" y1="979.0" x2="1618.9" y2="909.1" stroke="#000" stroke-width="3.6"/><polygon points="1601.9,870.2 1630.5,906.3 1609.0,915.7" fill="#000"/>
<line x1="739.8" y1="1567.8" x2="655.1" y2="1503.6" stroke="#000" stroke-width="3.6"/><polygon points="621.2,1477.9 663.8,1495.4 649.6,1514.1" fill="#000"/>
<line x1="1454.6" y1="1587.7" x2="1555.2" y2="1553.0" stroke="#000" stroke-width="3.6"/><polygon points="1595.4,1539.1 1557.2,1564.7 1549.5,1542.5" fill="#000"/>
<line x1="1967.7" y1="1591.2" x2="1982.7" y2="1496.2" stroke="#000" stroke-width="3.6"/><polygon points="1989.3,1454.2 1994.0,1500.0 1970.8,1496.3" fill="#000"/>
<text class="title" transform="translate(786,1996.2) scale(1,1.028)">Wavenumbers(cm<tspan class="sup" x="848.5" y="-44.75">−1</tspan><tspan x="927.5" y="0">)</tspan></text>
<text class="title" transform="translate(108.2,1259.3) rotate(-90) scale(1,1.028)" style="letter-spacing:1.07px">Transmittance(%)</text>
</svg></body></html>
